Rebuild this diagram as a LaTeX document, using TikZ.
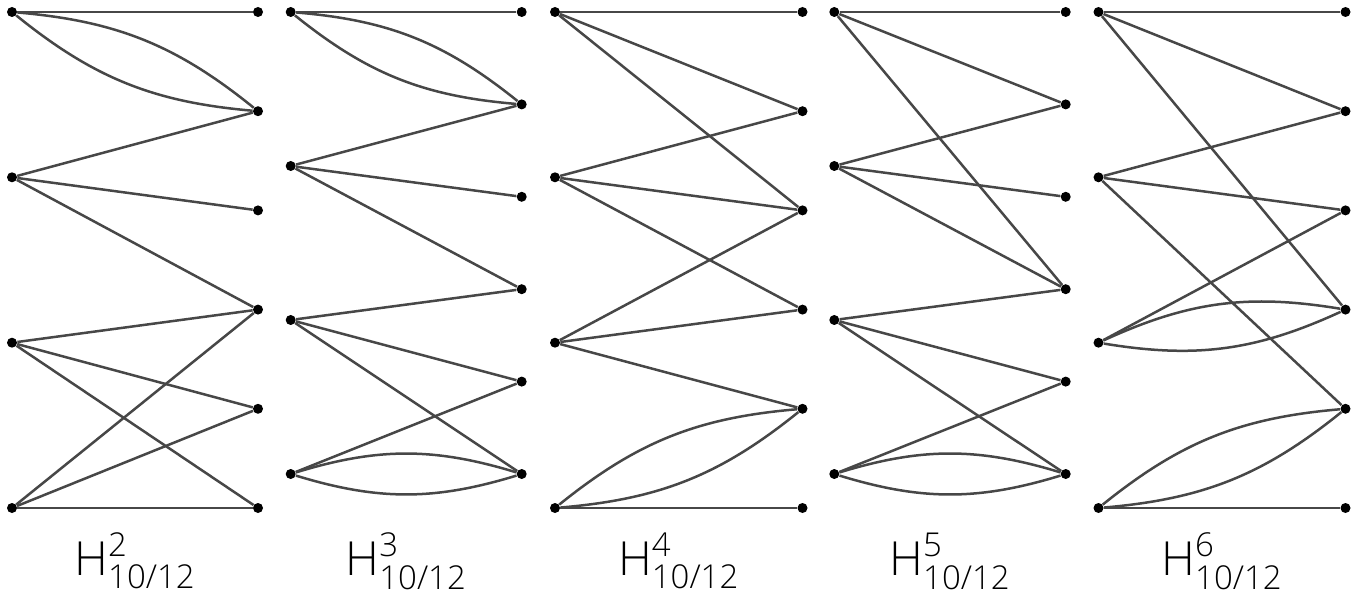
\documentclass[tikz,border=0pt]{standalone}
\usepackage{amsmath}
\usepackage{fontspec}
\setmainfont{Open Sans}[UprightFont=* Light]
\definecolor{edgegray}{HTML}{474747}
\tikzset{
  vtx/.style={circle,fill=black,inner sep=0pt,minimum size=5pt},
  edge/.style={draw=edgegray,line width=1.25pt},
  glabel/.style={anchor=base,inner sep=0pt,font=\fontsize{23.5}{28}\selectfont}
}
\begin{document}
\begin{tikzpicture}[x=0.5pt,y=-0.5pt]
\useasboundingbox (0,0) rectangle (1366,604);
% first graph
\node[vtx] (g1l1) at (12,12) {};
\node[vtx] (g1l2) at (12,177.3) {};
\node[vtx] (g1l3) at (12,342.7) {};
\node[vtx] (g1l4) at (12,508) {};
\node[vtx] (g1r1) at (258,12) {};
\node[vtx] (g1r2) at (258,111.2) {};
\node[vtx] (g1r3) at (258,210.4) {};
\node[vtx] (g1r4) at (258,309.6) {};
\node[vtx] (g1r5) at (258,408.8) {};
\node[vtx] (g1r6) at (258,508) {};
\draw[edge] (g1l1) -- (g1r1);
\draw[edge] (g1l1) to[bend left=17] (g1r2);
\draw[edge] (g1l1) to[bend right=17] (g1r2);
\draw[edge] (g1l2) -- (g1r2);
\draw[edge] (g1l2) -- (g1r3);
\draw[edge] (g1l2) -- (g1r4);
\draw[edge] (g1l3) -- (g1r4);
\draw[edge] (g1l3) -- (g1r5);
\draw[edge] (g1l3) -- (g1r6);
\draw[edge] (g1l4) -- (g1r4);
\draw[edge] (g1l4) -- (g1r5);
\draw[edge] (g1l4) -- (g1r6);
\node[glabel] (h2) at (135,575) {H$^{\text{2}}_{\text{10/12}}$};
% second graph
\node[vtx] (g2l1) at (290.7,12) {};
\node[vtx] (g2l2) at (290.7,166) {};
\node[vtx] (g2l3) at (290.7,320) {};
\node[vtx] (g2l4) at (290.7,474) {};
\node[vtx] (g2r1) at (521.7,12) {};
\node[vtx] (g2r2) at (521.7,104.4) {};
\node[vtx] (g2r3) at (521.7,196.8) {};
\node[vtx] (g2r4) at (521.7,289.2) {};
\node[vtx] (g2r5) at (521.7,381.6) {};
\node[vtx] (g2r6) at (521.7,474) {};
\draw[edge] (g2l1) -- (g2r1);
\draw[edge] (g2l1) to[bend left=17] (g2r2);
\draw[edge] (g2l1) to[bend right=17] (g2r2);
\draw[edge] (g2l2) -- (g2r2);
\draw[edge] (g2l2) -- (g2r3);
\draw[edge] (g2l2) -- (g2r4);
\draw[edge] (g2l3) -- (g2r4);
\draw[edge] (g2l3) -- (g2r5);
\draw[edge] (g2l3) -- (g2r6);
\draw[edge] (g2l4) -- (g2r5);
\draw[edge] (g2l4) to[bend left=17] (g2r6);
\draw[edge] (g2l4) to[bend right=17] (g2r6);
\node[glabel] (h3) at (406.2,575) {H$^{\text{3}}_{\text{10/12}}$};
% third graph
\node[vtx] (g3l1) at (555,12) {};
\node[vtx] (g3l2) at (555,177.3) {};
\node[vtx] (g3l3) at (555,342.7) {};
\node[vtx] (g3l4) at (555,508) {};
\node[vtx] (g3r1) at (802.5,12) {};
\node[vtx] (g3r2) at (802.5,111.2) {};
\node[vtx] (g3r3) at (802.5,210.4) {};
\node[vtx] (g3r4) at (802.5,309.6) {};
\node[vtx] (g3r5) at (802.5,408.8) {};
\node[vtx] (g3r6) at (802.5,508) {};
\draw[edge] (g3l1) -- (g3r1);
\draw[edge] (g3l1) -- (g3r2);
\draw[edge] (g3l1) -- (g3r3);
\draw[edge] (g3l2) -- (g3r2);
\draw[edge] (g3l2) -- (g3r3);
\draw[edge] (g3l2) -- (g3r4);
\draw[edge] (g3l3) -- (g3r3);
\draw[edge] (g3l3) -- (g3r4);
\draw[edge] (g3l3) -- (g3r5);
\draw[edge] (g3l4) to[bend left=17] (g3r5);
\draw[edge] (g3l4) to[bend right=17] (g3r5);
\draw[edge] (g3l4) -- (g3r6);
\node[glabel] (h4) at (678.7,575) {H$^{\text{4}}_{\text{10/12}}$};
% fourth graph
\node[vtx] (g4l1) at (834.3,12) {};
\node[vtx] (g4l2) at (834.3,166) {};
\node[vtx] (g4l3) at (834.3,320) {};
\node[vtx] (g4l4) at (834.3,474) {};
\node[vtx] (g4r1) at (1065.7,12) {};
\node[vtx] (g4r2) at (1065.7,104.4) {};
\node[vtx] (g4r3) at (1065.7,196.8) {};
\node[vtx] (g4r4) at (1065.7,289.2) {};
\node[vtx] (g4r5) at (1065.7,381.6) {};
\node[vtx] (g4r6) at (1065.7,474) {};
\draw[edge] (g4l1) -- (g4r1);
\draw[edge] (g4l1) -- (g4r2);
\draw[edge] (g4l1) -- (g4r4);
\draw[edge] (g4l2) -- (g4r2);
\draw[edge] (g4l2) -- (g4r3);
\draw[edge] (g4l2) -- (g4r4);
\draw[edge] (g4l3) -- (g4r4);
\draw[edge] (g4l3) -- (g4r5);
\draw[edge] (g4l3) -- (g4r6);
\draw[edge] (g4l4) -- (g4r5);
\draw[edge] (g4l4) to[bend left=17] (g4r6);
\draw[edge] (g4l4) to[bend right=17] (g4r6);
\node[glabel] (h5) at (950,575) {H$^{\text{5}}_{\text{10/12}}$};
% fifth graph
\node[vtx] (g5l1) at (1098.5,12) {};
\node[vtx] (g5l2) at (1098.5,177.3) {};
\node[vtx] (g5l3) at (1098.5,342.7) {};
\node[vtx] (g5l4) at (1098.5,508) {};
\node[vtx] (g5r1) at (1345.5,12) {};
\node[vtx] (g5r2) at (1345.5,111.2) {};
\node[vtx] (g5r3) at (1345.5,210.4) {};
\node[vtx] (g5r4) at (1345.5,309.6) {};
\node[vtx] (g5r5) at (1345.5,408.8) {};
\node[vtx] (g5r6) at (1345.5,508) {};
\draw[edge] (g5l1) -- (g5r1);
\draw[edge] (g5l1) -- (g5r2);
\draw[edge] (g5l1) -- (g5r4);
\draw[edge] (g5l2) -- (g5r2);
\draw[edge] (g5l2) -- (g5r3);
\draw[edge] (g5l2) -- (g5r5);
\draw[edge] (g5l3) -- (g5r3);
\draw[edge] (g5l3) to[bend left=17] (g5r4);
\draw[edge] (g5l3) to[bend right=17] (g5r4);
\draw[edge] (g5l4) to[bend left=17] (g5r5);
\draw[edge] (g5l4) to[bend right=17] (g5r5);
\draw[edge] (g5l4) -- (g5r6);
\node[glabel] (h6) at (1222,575) {H$^{\text{6}}_{\text{10/12}}$};
\end{tikzpicture}
\end{document}
